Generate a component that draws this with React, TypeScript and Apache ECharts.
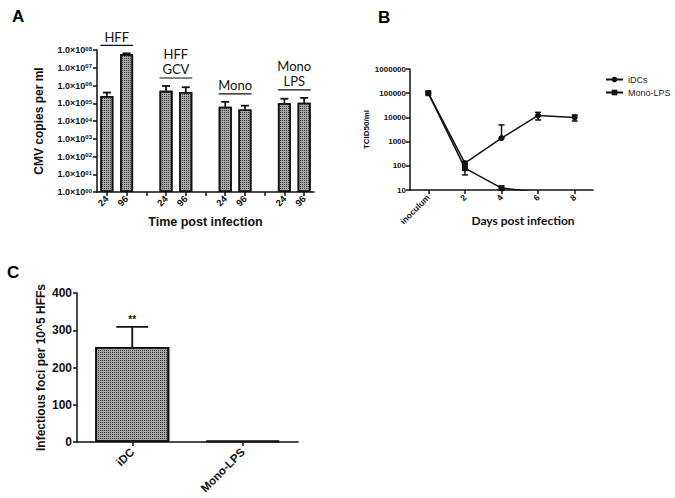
import React, { useEffect, useRef } from 'react';
import * as echarts from 'echarts';

// ---------- Panel A data ----------
const aCategories = ['24', '96', '', '24', '96', '', '24', '96', '', '24', '96'];
const aValues: (number | string)[] = [2.6e5, 5.9e7, '-', 5.0e5, 4.3e5, '-', 6.4e4, 4.5e4, '-', 1.0e5, 1.07e5];
const aErrorTop: (number | string)[] = [4.0e5, 6.5e7, '-', 9.4e5, 8.0e5, '-', 1.2e5, 7.3e4, '-', 1.8e5, 2.0e5];
const aGroupLabels = ['HFF', 'HFF\nGCV', 'Mono', 'Mono\nLPS'];
const aGroupStart = [0, 3, 6, 9];
const aTickExponents = ['00', '01', '02', '03', '04', '05', '06', '07', '08'];

// ---------- Panel B data ----------
const bCategories = ['inoculum', '2', '4', '6', '8'];
const bTickLabels = ['10', '100', '1000', '10000', '100000', '1000000'];
const bIDCs = [100000, 130, 1400, 12000, 10000];
const bIDCsLow = [100000, 110, 1400, 7800, 7100];
const bIDCsHigh = [100000, 150, 4900, 16200, 12600];
const bMono = [100000, 80, 12, 8, 8];
const bMonoLow = [100000, 42, 12, 8, 8];
const bMonoHigh = [100000, 118, 12, 8, 8];

// ---------- Panel C data ----------
const cCategories = ['iDC', 'Mono-LPS'];
const cValues = [255, 3];
const cErrorTop = [309, 3];
const cSignificance = ['**', ''];

const FONT = '"Liberation Sans", Arial, sans-serif';
const INK = '#111';
const BAR_STYLE = {
  color: '#a6a6a6',
  borderColor: INK,
  decal: {
    symbol: 'rect', symbolSize: 1, symbolKeepAspect: false,
    dashArrayX: [1, 1], dashArrayY: [1, 1], rotation: 0, color: '#3c3c3c',
  },
};

function upErrorBars(values: (number | string)[], tops: (number | string)[], cap: number, marks?: string[]) {
  const data: number[][] = [];
  values.forEach((v, i) => {
    if (typeof v === 'number' && typeof tops[i] === 'number') data.push([i, v, tops[i] as number]);
  });
  return {
    data,
    renderItem: (params: any, api: any) => {
      const x = api.value(0);
      const p1 = api.coord([x, api.value(1)]);
      const p2 = api.coord([x, api.value(2)]);
      const children: any[] = [];
      if (Math.abs(p1[1] - p2[1]) > 0.5) {
        children.push({ type: 'line', shape: { x1: p1[0], y1: p1[1], x2: p2[0], y2: p2[1] }, style: { stroke: INK, lineWidth: 1.8 } });
        children.push({ type: 'line', shape: { x1: p2[0] - cap, y1: p2[1], x2: p2[0] + cap, y2: p2[1] }, style: { stroke: INK, lineWidth: 1.8 } });
      }
      const m = marks ? marks[x] : '';
      if (m) {
        children.push({
          type: 'text', x: p2[0], y: p2[1] - 2,
          style: { text: m, fill: INK, font: `bold 10px ${FONT}`, textAlign: 'center', textVerticalAlign: 'bottom' },
        });
      }
      return { type: 'group', children };
    },
  };
}

function rangeErrorBars(low: number[], high: number[], cap: number) {
  const data: number[][] = [];
  low.forEach((l, i) => { if (high[i] !== l) data.push([i, l, high[i]]); });
  return {
    data,
    renderItem: (params: any, api: any) => {
      const x = api.value(0);
      const p1 = api.coord([x, api.value(1)]);
      const p2 = api.coord([x, api.value(2)]);
      return {
        type: 'group',
        children: [
          { type: 'line', shape: { x1: p1[0], y1: p1[1], x2: p2[0], y2: p2[1] }, style: { stroke: INK, lineWidth: 1.5 } },
          { type: 'line', shape: { x1: p1[0] - cap, y1: p1[1], x2: p1[0] + cap, y2: p1[1] }, style: { stroke: INK, lineWidth: 1.5 } },
          { type: 'line', shape: { x1: p2[0] - cap, y1: p2[1], x2: p2[0] + cap, y2: p2[1] }, style: { stroke: INK, lineWidth: 1.5 } },
        ],
      };
    },
  };
}

export default function App() {
  const ref = useRef<HTMLDivElement>(null);
  useEffect(() => {
    if (!ref.current) return;
    const chart = echarts.init(ref.current, null, { renderer: 'svg' });

    const aErr = upErrorBars(aValues, aErrorTop, 4);
    const cErr = upErrorBars(cValues, cErrorTop, 16, cSignificance);
    const bErrI = rangeErrorBars(bIDCsLow, bIDCsHigh, 3);
    const bErrM = rangeErrorBars(bMonoLow, bMonoHigh, 3);

    const groupData = aGroupStart.map((s) => {
      const tops = [aErrorTop[s], aErrorTop[s + 1]].filter((t) => typeof t === 'number') as number[];
      return [s, Math.max(...tops)];
    });

    const axisLine = { show: true, lineStyle: { color: INK, width: 1.5 } };
    const axisTick = { show: true, length: 4, lineStyle: { color: INK, width: 1.5 } };

    const option: any = {
      animation: false,
      backgroundColor: '#fff',
      textStyle: { fontFamily: FONT },
      title: [
        { text: 'A', left: 7, top: 3, textStyle: { fontSize: 17, fontWeight: 'bold', color: '#000', fontFamily: FONT } },
        { text: 'B', left: 373, top: 4, textStyle: { fontSize: 17, fontWeight: 'bold', color: '#000', fontFamily: FONT } },
        { text: 'C', left: 2, top: 259, textStyle: { fontSize: 17, fontWeight: 'bold', color: '#000', fontFamily: FONT } },
      ],
      legend: {
        orient: 'vertical', left: 600, top: 70, itemWidth: 17, itemHeight: 7, itemGap: 4,
        textStyle: { fontSize: 9, color: '#222', fontFamily: FONT },
        data: ['iDCs', 'Mono-LPS'],
      },
      grid: [
        { left: 97, top: 50, width: 217, height: 142 },
        { left: 410, top: 69, width: 183, height: 121 },
        { left: 77, top: 293, width: 221, height: 149 },
      ],
      xAxis: [
        {
          gridIndex: 0, type: 'category', data: aCategories,
          axisLine, axisTick: { ...axisTick, alignWithLabel: true, interval: 0 },
          axisLabel: { interval: 0, rotate: 45, margin: 5, fontSize: 9.5, fontWeight: 'bold', color: INK },
          name: 'Time post infection', nameLocation: 'middle', nameGap: 23,
          nameTextStyle: { fontSize: 12.5, fontWeight: 'bold', color: INK },
        },
        {
          gridIndex: 1, type: 'category', data: bCategories,
          axisLine, axisTick: { ...axisTick, alignWithLabel: true, interval: 0 },
          axisLabel: { interval: 0, rotate: 45, margin: 6, fontSize: 8.5, fontWeight: 'bold', color: INK },
        },
        {
          gridIndex: 2, type: 'category', data: cCategories,
          axisLine, axisTick: { ...axisTick, alignWithLabel: true, interval: 0 },
          axisLabel: { interval: 0, rotate: 45, margin: 8, fontSize: 11.5, fontWeight: 'bold', color: INK },
        },
      ],
      yAxis: [
        {
          gridIndex: 0, type: 'log', logBase: 10, min: 1, max: 1e8,
          axisLine, axisTick, splitLine: { show: false }, minorTick: { show: false },
          axisLabel: {
            fontSize: 9, fontWeight: 'bold', color: INK, margin: 5,
            formatter: (_v: number, i: number) => `1.0×10{s|${aTickExponents[i]}}`,
            rich: { s: { fontSize: 6, fontWeight: 'bold', color: INK, verticalAlign: 'top', lineHeight: 8 } },
          },
          name: 'CMV copies per ml', nameLocation: 'middle', nameGap: 52,
          nameTextStyle: { fontSize: 12, fontWeight: 'bold', color: INK },
        },
        {
          gridIndex: 1, type: 'log', logBase: 10, min: 10, max: 1e6,
          axisLine, axisTick, splitLine: { show: false },
          axisLabel: {
            fontSize: 8, fontWeight: 'bold', color: INK, margin: 4,
            formatter: (_v: number, i: number) => bTickLabels[i],
          },
          name: 'TCID50/ml', nameLocation: 'middle', nameGap: 38,
          nameTextStyle: { fontSize: 8, fontWeight: 'bold', color: INK },
        },
        {
          gridIndex: 2, type: 'value', min: 0, max: 400, interval: 100,
          axisLine, axisTick, splitLine: { show: false },
          axisLabel: { fontSize: 12, fontWeight: 'bold', color: INK, margin: 5 },
          name: 'Infectious foci per 10^5 HFFs', nameLocation: 'middle', nameGap: 30,
          nameTextStyle: { fontSize: 12, fontWeight: 'bold', color: INK },
        },
      ],
      graphic: [
        {
          type: 'text', x: 523, y: 220,
          style: { text: 'Days post infection', font: `bold 12px Lato, ${FONT}`, fill: INK, textAlign: 'center', textVerticalAlign: 'middle' },
        },
      ],
      series: [
        {
          type: 'bar', xAxisIndex: 0, yAxisIndex: 0, data: aValues, barWidth: '66%',
          itemStyle: { ...BAR_STYLE, borderWidth: 1.6 },
        },
        { type: 'custom', xAxisIndex: 0, yAxisIndex: 0, data: aErr.data, renderItem: aErr.renderItem, z: 3 },
        {
          type: 'custom', xAxisIndex: 0, yAxisIndex: 0, data: groupData, z: 3,
          renderItem: (params: any, api: any) => {
            const s = api.value(0);
            const w = api.size([1, 0])[0] * 0.66;
            const pa = api.coord([s, api.value(1)]);
            const pb = api.coord([s + 1, api.value(1)]);
            const y = pa[1] - 8;
            const x1 = pa[0] - w / 2;
            const x2 = pb[0] + w / 2;
            return {
              type: 'group',
              children: [
                { type: 'line', shape: { x1, y1: y, x2, y2: y }, style: { stroke: INK, lineWidth: 1.2 } },
                {
                  type: 'text', x: (x1 + x2) / 2, y: y - 1,
                  style: {
                    text: aGroupLabels[params.dataIndex], fill: INK, font: `13px Lato, "Open Sans", sans-serif`,
                    textAlign: 'center', textVerticalAlign: 'bottom', lineHeight: 15,
                  },
                },
              ],
            };
          },
        },
        {
          name: 'iDCs', type: 'line', xAxisIndex: 1, yAxisIndex: 1, data: bIDCs,
          symbol: 'circle', symbolSize: 6, lineStyle: { color: INK, width: 1.5 }, itemStyle: { color: INK },
        },
        {
          name: 'Mono-LPS', type: 'line', xAxisIndex: 1, yAxisIndex: 1, data: bMono,
          symbol: 'rect', symbolSize: 6, lineStyle: { color: INK, width: 1.5 }, itemStyle: { color: INK },
        },
        { type: 'custom', xAxisIndex: 1, yAxisIndex: 1, data: bErrI.data, renderItem: bErrI.renderItem, z: 3 },
        { type: 'custom', xAxisIndex: 1, yAxisIndex: 1, data: bErrM.data, renderItem: bErrM.renderItem, z: 3 },
        {
          type: 'bar', xAxisIndex: 2, yAxisIndex: 2, data: cValues, barWidth: '67%',
          itemStyle: { ...BAR_STYLE, borderWidth: 1.8 },
        },
        { type: 'custom', xAxisIndex: 2, yAxisIndex: 2, data: cErr.data, renderItem: cErr.renderItem, z: 3 },
      ],
    };
    chart.setOption(option);
    return () => chart.dispose();
  }, []);
  return <div ref={ref} style={{ position: 'absolute', left: 0, top: 0, width: 675, height: 498 }} />;
}
